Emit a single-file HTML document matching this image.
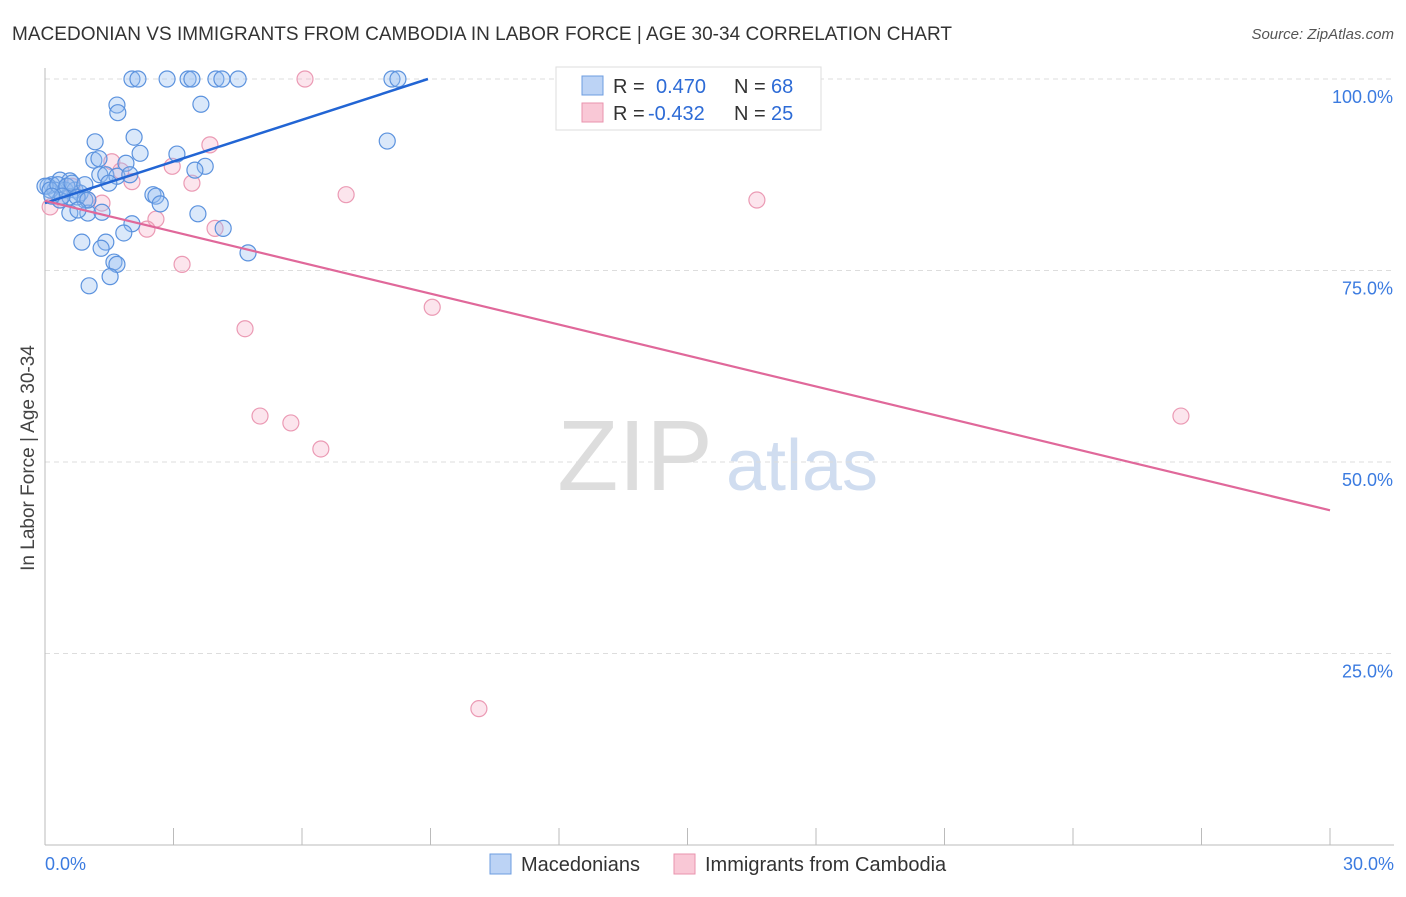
<!DOCTYPE html>
<html><head><meta charset="utf-8"><style>
body{margin:0;background:#fff;font-family:"Liberation Sans",sans-serif;}
svg text{font-family:"Liberation Sans",sans-serif;}
</style></head><body>
<svg id="chart" width="1406" height="892">
<text x="12" y="40" font-size="19" fill="#333" textLength="940">MACEDONIAN VS IMMIGRANTS FROM CAMBODIA IN LABOR FORCE | AGE 30-34 CORRELATION CHART</text>
<text x="1394" y="39" font-size="15" fill="#555" font-style="italic" text-anchor="end">Source: ZipAtlas.com</text>
<text x="34" y="458" font-size="19" fill="#444" text-anchor="middle" transform="rotate(-90 34 458)">In Labor Force | Age 30-34</text>
<g><text x="635" y="490" font-size="100" fill="#ddd" font-family="Liberation Serif" text-anchor="middle">ZIP</text><text x="802" y="490" font-size="72" fill="#d0ddf0" text-anchor="middle">atlas</text></g>
<g id="grid"></g><g id="axes"></g><g id="pts"></g><g id="lines"></g>
<g>
<rect x="556" y="67" width="265" height="63" fill="#fff" stroke="#ddd"/>
<rect x="582" y="76" width="21" height="19" fill="#bcd3f5" stroke="#6d9de0"/>
<rect x="582" y="103" width="21" height="19" fill="#f9c8d6" stroke="#e993ae"/>
<text x="613" y="93" font-size="20" fill="#333">R = </text><text x="656" y="93" font-size="20" fill="#2d6bd6">0.470</text>
<text x="734" y="93" font-size="20" fill="#333">N = </text><text x="771" y="93" font-size="20" fill="#2d6bd6">68</text>
<text x="613" y="120" font-size="20" fill="#333">R = </text><text x="648" y="120" font-size="20" fill="#2d6bd6">-0.432</text>
<text x="734" y="120" font-size="20" fill="#333">N = </text><text x="771" y="120" font-size="20" fill="#2d6bd6">25</text>
</g>
<g>
<rect x="490" y="854" width="21" height="20" fill="#bcd3f5" stroke="#6d9de0"/>
<text x="521" y="871" font-size="20" fill="#333">Macedonians</text>
<rect x="674" y="854" width="21" height="20" fill="#f9c8d6" stroke="#e993ae"/>
<text x="705" y="871" font-size="20" fill="#333">Immigrants from Cambodia</text>
</g>
</svg>
<script>
const yTicks=[25,50,75,100];
const yTickLabels=["25.0%","50.0%","75.0%","100.0%"];
const xTickLabels=["0.0%","30.0%"];
const blueX=[2.03,2.17,2.85,3.34,3.43,3.99,4.13,4.51,8.10,8.24,1.68,1.70,3.64,7.99,2.08,1.17,2.22,3.08,1.14,1.26,1.89,3.74,3.50,1.28,1.42,1.68,1.49,1.98,0.35,0.58,0.16,0.07,0.23,0.47,0.70,0.82,0.93,0.35,0.58,2.52,2.59,2.69,1.0,0.58,1.33,3.57,4.16,2.03,1.84,0.86,1.42,1.31,1.61,1.68,4.74,1.52,1.03,0,0.12,0.30,0.51,0.63,0.75,0.93,0.40,0.16,1.0,0.77];
const blueY=[100,100,100,100,100,100,100,100,100,100,96.6,95.6,96.7,91.9,92.4,91.8,90.3,90.2,89.4,89.6,89.0,88.6,88.1,87.5,87.5,87.3,86.4,87.5,86.8,86.7,86.2,86.0,85.5,85.5,85.5,85.1,84.2,84.2,84.6,84.9,84.7,83.7,82.5,82.5,82.6,82.4,80.5,81.1,79.9,78.7,78.7,77.9,76.1,75.8,77.3,74.2,73.0,86.0,85.5,86.2,86.0,86.4,84.6,86.2,84.7,84.7,84.2,82.9];
const pinkX=[6.07,3.85,1.56,2.97,1.77,2.03,3.43,7.03,1.33,1.0,0.12,2.59,2.38,3.97,3.20,9.04,4.67,5.02,5.74,6.44,10.13,16.62,26.52,0.35,0.63];
const pinkY=[100,91.4,89.2,88.6,88.0,86.6,86.4,84.9,83.8,84.2,83.3,81.7,80.4,80.5,75.8,70.2,67.4,56.0,55.1,51.7,17.8,84.2,56.0,84.2,86.0];
const blueTrend=[[0,83.8],[8.94,100]];
const pinkTrend=[[0,84.1],[30,43.7]];
const X=v=>45+v/30*1285, Y=v=>845-v/100*766;
const NS="http://www.w3.org/2000/svg";
function mk(t,a,p){const e=document.createElementNS(NS,t);for(const k in a)e.setAttribute(k,a[k]);p.appendChild(e);return e;}
const grid=document.getElementById('grid'),axes=document.getElementById('axes');
yTicks.forEach((t,i)=>{
 const l=mk('line',{x1:45,x2:1394,y1:Y(t),y2:Y(t),stroke:'#ddd','stroke-dasharray':'5,4'},grid);
 
 
 const tx=mk('text',{x:1393,y:Y(t)+24,'font-size':18,fill:'#3b7be0','text-anchor':'end'},axes);tx.textContent=yTickLabels[i];
 
 
});
const ax=mk('line',{x1:45,x2:45,y1:68,y2:845,stroke:'#bbb'},axes);


const bx=mk('line',{x1:45,x2:1394,y1:845,y2:845,stroke:'#bbb'},axes);


for(let i=1;i<=10;i++){const t=mk('line',{x1:X(i*3),x2:X(i*3),y1:828,y2:845,stroke:'#bbb'},axes);
 
 }
[[0,'start',45],[30,'end',1394]].forEach((d,i)=>{const t=mk('text',{x:d[2],y:870,'font-size':18,fill:'#3b7be0','text-anchor':d[1]},axes);t.textContent=xTickLabels[i];
 
 });
const pts=document.getElementById('pts');
pinkX.forEach((x,i)=>{const c=mk('circle',{cx:X(x),cy:Y(pinkY[i]),r:8,fill:'rgba(244,170,195,0.3)',stroke:'#eb9ab4','stroke-width':1.2},pts);
 
 });
blueX.forEach((x,i)=>{const c=mk('circle',{cx:X(x),cy:Y(blueY[i]),r:8,fill:'rgba(150,188,240,0.35)',stroke:'#5b92de','stroke-width':1.2},pts);
 
 });
const lines=document.getElementById('lines');
const bl=mk('line',{x1:X(blueTrend[0][0]),y1:Y(blueTrend[0][1]),x2:X(blueTrend[1][0]),y2:Y(blueTrend[1][1]),stroke:'#2265d4','stroke-width':2.5},lines);


const pl=mk('line',{x1:X(pinkTrend[0][0]),y1:Y(pinkTrend[0][1]),x2:X(pinkTrend[1][0]),y2:Y(pinkTrend[1][1]),stroke:'#e0689a','stroke-width':2.2},lines);


</script>
</body></html>
